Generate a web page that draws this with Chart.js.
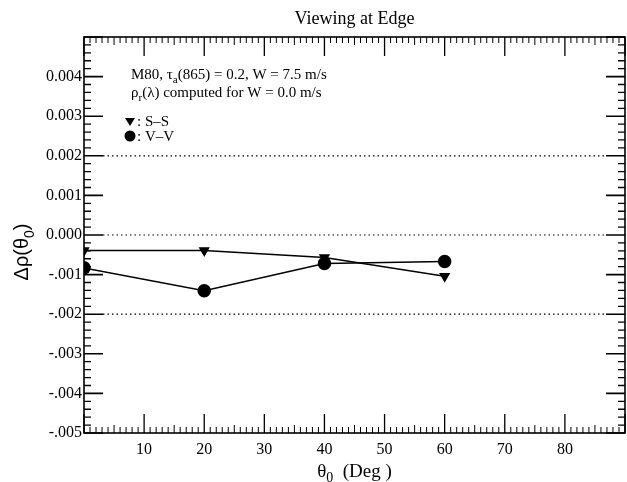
<!DOCTYPE html>
<html>
<head>
<meta charset="utf-8">
<script src="https://cdn.jsdelivr.net/npm/chart.js@4"></script>
<style>
  html, body { margin: 0; padding: 0; background: #fff; }
  canvas { display: block; }
</style>
</head>
<body>
<canvas id="edgeChart" width="627" height="482"></canvas>
<script>
// solar zenith angle (deg) and reflectance error for the two polarization cases
const thetaDeg = [0, 20, 40, 60];
const ssValues = [-0.00039, -0.00039, -0.00057, -0.00104];
const vvValues = [-0.00083, -0.00141, -0.00072, -0.00067];
const dottedLevels = [0.002, 0.000, -0.002];
const xTickLabels = ['', '10', '20', '30', '40', '50', '60', '70', '80', ''];

const serif = '"Liberation Serif", "Times New Roman", serif';
const sans = '"Liberation Sans", Arial, sans-serif';

// write text with optional subscript pieces: [[text, isSub], ...]
function richText(c, parts, x, y, size, fam) {
    fam = fam || serif;
    let cx = x;
    parts.forEach(p => {
        c.font = (p[1] ? Math.round(size * 0.72) : size) + 'px ' + fam;
        c.fillText(p[0], cx, p[1] ? y + size * 0.28 : y);
        cx += c.measureText(p[0]).width;
    });
    return cx - x;
}

function richWidth(c, parts, size, fam) {
    fam = fam || serif;
    let w = 0;
    parts.forEach(p => {
        c.font = (p[1] ? Math.round(size * 0.72) : size) + 'px ' + fam;
        w += c.measureText(p[0]).width;
    });
    return w;
}

const framePlugin = {
    id: 'frame',
    beforeDatasetsDraw(chart) {
        const c = chart.ctx;
        const a = chart.chartArea;
        const xs = chart.scales.x;
        const ys = chart.scales.y;
        c.save();
        c.strokeStyle = '#000';

        // dotted reference lines
        c.lineWidth = 1.2;
        c.setLineDash([1.5, 3]);
        dottedLevels.forEach(v => {
            const py = ys.getPixelForValue(v);
            c.beginPath();
            c.moveTo(a.left + 19, py);
            c.lineTo(a.right - 19, py);
            c.stroke();
        });
        c.setLineDash([]);

        // frame
        c.lineWidth = 1.6;
        c.strokeRect(a.left, a.top, a.right - a.left, a.bottom - a.top);

        // inward ticks on x (bottom and top): every degree, longer at 5 and 10
        for (let d = 0; d <= 90; d++) {
            const px = xs.getPixelForValue(d);
            let len = 6;
            c.lineWidth = 1;
            if (d % 10 === 0) { len = 19; c.lineWidth = 1.3; }
            else if (d % 5 === 0) { len = 8; }
            c.beginPath();
            c.moveTo(px, a.bottom);
            c.lineTo(px, a.bottom - len);
            c.moveTo(px, a.top);
            c.lineTo(px, a.top + len);
            c.stroke();
        }

        // inward ticks on y (left and right): every 0.0002, longer at 0.001
        for (let k = -25; k <= 25; k++) {
            const py = ys.getPixelForValue(k * 0.0002);
            let len = 7;
            c.lineWidth = 1.3;
            if (k % 5 === 0) { len = 19; c.lineWidth = 1.6; }
            c.beginPath();
            c.moveTo(a.left, py);
            c.lineTo(a.left + len, py);
            c.moveTo(a.right, py);
            c.lineTo(a.right - len, py);
            c.stroke();
        }
        c.restore();
    },
    afterDraw(chart) {
        const c = chart.ctx;
        const a = chart.chartArea;
        const mid = (a.left + a.right) / 2;
        c.save();
        c.fillStyle = '#000';
        c.textBaseline = 'alphabetic';
        c.textAlign = 'left';

        // title
        const tParts = [['Viewing at Edge', false]];
        richText(c, tParts, mid - richWidth(c, tParts, 18) / 2, 24, 18);

        // run description
        richText(c, [['M80, \u03c4', false], ['a', true], ['(865) = 0.2, W = 7.5 m/s', false]], 131, 79, 15);
        richText(c, [['\u03c1', false], ['r', true], ['(\u03bb) computed for W = 0.0 m/s', false]], 131, 97, 15);

        // legend
        c.beginPath();
        c.moveTo(125, 118);
        c.lineTo(135, 118);
        c.lineTo(130, 126);
        c.closePath();
        c.fill();
        c.beginPath();
        c.arc(130, 136, 5.5, 0, Math.PI * 2);
        c.fill();
        richText(c, [[': S\u2013S', false]], 137, 126, 15);
        richText(c, [[': V\u2013V', false]], 137, 141, 15);

        // x axis title
        const xParts = [['\u03b8', false], ['0', true], ['  (Deg )', false]];
        richText(c, xParts, mid - richWidth(c, xParts, 19) / 2, 477, 19);

        // y axis title
        const yParts = [['\u0394\u03c1(\u03b8', false], ['0', true], [')', false]];
        c.translate(28, 252);
        c.rotate(-Math.PI / 2);
        richText(c, yParts, -richWidth(c, yParts, 20, sans) / 2, 0, 20, sans);
        c.restore();
    }
};

new Chart(document.getElementById('edgeChart'), {
    type: 'line',
    data: {
        datasets: [{
            label: 'S-S',
            data: thetaDeg.map((t, i) => ({ x: t, y: ssValues[i] })),
            borderColor: '#000',
            backgroundColor: '#000',
            borderWidth: 1.5,
            pointStyle: 'triangle',
            rotation: 180,
            pointRadius: 5,
            tension: 0
        }, {
            label: 'V-V',
            data: thetaDeg.map((t, i) => ({ x: t, y: vvValues[i] })),
            borderColor: '#000',
            backgroundColor: '#000',
            borderWidth: 1.5,
            pointStyle: 'circle',
            pointRadius: 6,
            tension: 0
        }]
    },
    plugins: [framePlugin],
    options: {
        responsive: false,
        animation: false,
        devicePixelRatio: 1,
        layout: { autoPadding: false, padding: { top: 37, right: 2, left: 0, bottom: 0 } },
        plugins: {
            legend: { display: false },
            title: { display: false },
            tooltip: { enabled: false }
        },
        scales: {
            x: {
                type: 'linear',
                min: 0,
                max: 90,
                afterFit: s => { s.height = 49; s.paddingLeft = 0; s.paddingRight = 0; },
                border: { display: false },
                grid: { display: false, drawTicks: false },
                ticks: {
                    stepSize: 10,
                    padding: 7,
                    color: '#000',
                    font: { family: serif, size: 16 },
                    maxRotation: 0,
                    callback: v => xTickLabels[Math.round(v / 10)]
                }
            },
            y: {
                min: -0.005,
                max: 0.005,
                afterFit: s => { s.width = 84; s.paddingTop = 0; s.paddingBottom = 0; },
                border: { display: false },
                grid: { display: false, drawTicks: false },
                ticks: {
                    stepSize: 0.001,
                    padding: 2,
                    color: '#000',
                    font: { family: serif, size: 16 },
                    callback: v => {
                        const k = Math.round(v * 1000);
                        if (k === 5) return '';
                        return k >= 0 ? '0.00' + k : '-.00' + (-k);
                    }
                }
            }
        }
    }
});
</script>
</body>
</html>
